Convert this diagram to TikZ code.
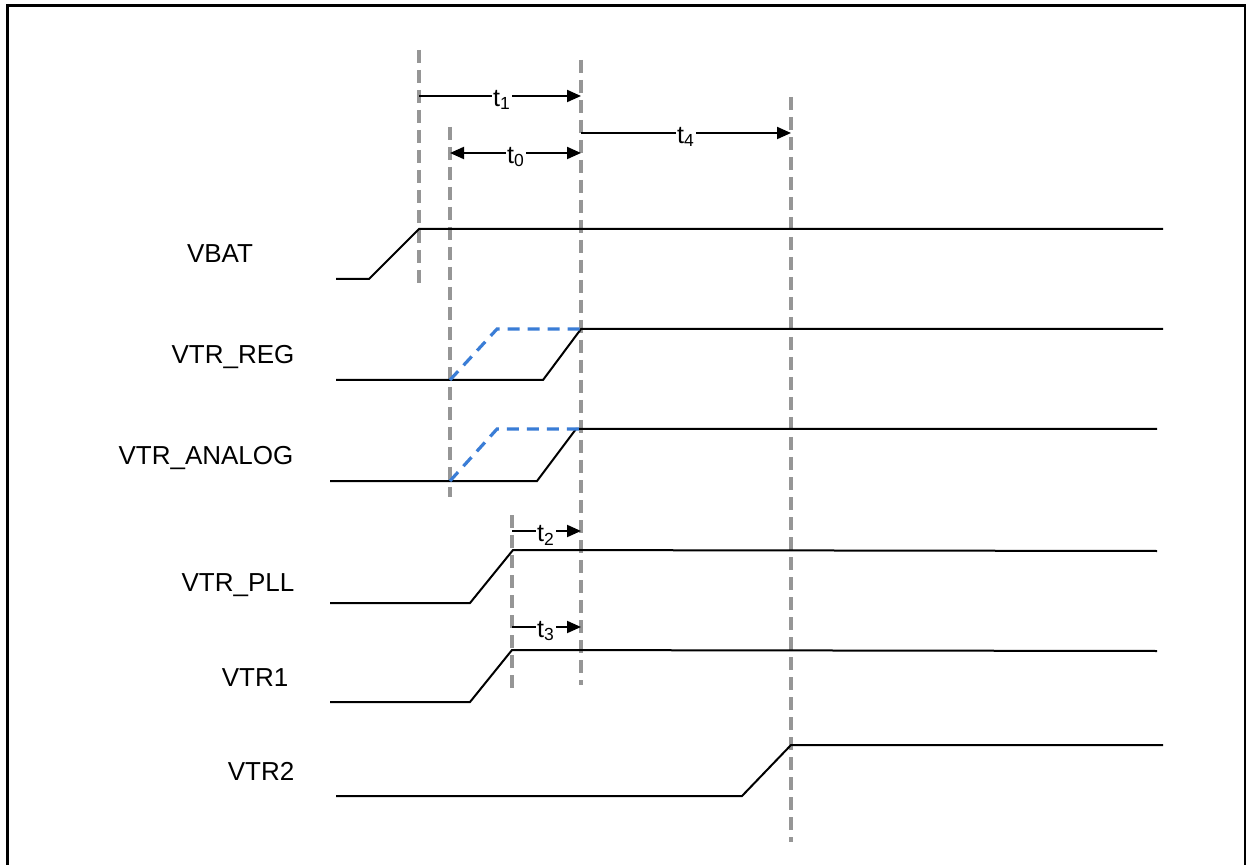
\documentclass[tikz,border=0pt]{standalone}
\usepackage{fontspec}
\setmainfont{Liberation Sans}
\usetikzlibrary{arrows.meta}
\definecolor{guidegray}{RGB}{150,150,150}
\definecolor{sigblue}{RGB}{58,125,214}
\begin{document}
\begin{tikzpicture}[x=0.5pt,y=-0.5pt,
  sig/.style={line width=1pt,black,line join=miter},
  guide/.style={draw=guidegray,line width=1.6pt,dash pattern=on 6.5pt off 3.5pt},
  alt/.style={draw=sigblue,line width=1.6pt,dash pattern=on 6pt off 4pt},
  dim/.style={line width=1pt,-{Triangle[length=7pt,width=6pt]}},
  dimboth/.style={line width=1pt,{Triangle[length=7pt,width=6pt]}-{Triangle[length=7pt,width=6pt]}},
  tlab/.style={fill=white,inner sep=0.6pt,font=\fontsize{12.5}{14}\selectfont},
  siglab/.style={anchor=base,font=\fontsize{13}{15}\selectfont}]
\useasboundingbox (0,0) rectangle (1246,865);
% frame
\draw[line width=1.5pt] (7,868) -- (7,6) -- (1245.5,6) -- (1245.5,868);

% guide coordinates
\coordinate (A1) at (419,50);  \coordinate (A2) at (419,284);
\coordinate (B1) at (450,127); \coordinate (B2) at (450,497);
\coordinate (C1) at (581,60);  \coordinate (C2) at (581,685);
\coordinate (D1) at (512,515); \coordinate (D2) at (512,695);
\coordinate (E1) at (791,97);  \coordinate (E2) at (791,842);
\draw[guide] (A1) -- (A2);
\draw[guide] (B1) -- (B2);
\draw[guide] (C1) -- (C2);
\draw[guide] (D1) -- (D2);
\draw[guide] (E1) -- (E2);

% timing arrows
\coordinate (t1s) at (419,96);  \coordinate (t1e) at (581,96);
\coordinate (t0s) at (450,153); \coordinate (t0e) at (581,153);
\coordinate (t4s) at (581,133); \coordinate (t4e) at (791,133);
\coordinate (t2s) at (512,531); \coordinate (t2e) at (581,531);
\coordinate (t3s) at (512,627); \coordinate (t3e) at (581,627);
\draw[dim] (t1s) -- (t1e);
\draw[dimboth] (t0s) -- (t0e);
\draw[dim] (t4s) -- (t4e);
\draw[dim] (t2s) -- (t2e);
\draw[dim] (t3s) -- (t3e);
\node[tlab] (lt1) at (502,100) {t\textsubscript{1}};
\node[tlab] (lt0) at (516,157) {t\textsubscript{0}};
\node[tlab] (lt4) at (686,137) {t\textsubscript{4}};
\node[tlab] (lt2) at (546,535) {t\textsubscript{2}};
\node[tlab] (lt3) at (546,631) {t\textsubscript{3}};

% signals
\draw[sig] (336,279) -- (369,279) -- (419,229) -- (1163,229);
\draw[sig] (336,380) -- (543,380) -- (581,329) -- (1163,329);
\draw[sig] (330,481) -- (537,481) -- (576,429) -- (1157,429);
\draw[sig] (330,603) -- (470,603) -- (513,550) -- (1157,551);
\draw[sig] (330,702) -- (470,702) -- (512,650) -- (1157,651);
\draw[sig] (336,796) -- (742,796) -- (791,745) -- (1163,745);
% alternative (early) ramps
\draw[alt] (450,380) -- (497,329) -- (581,329);
\draw[alt] (450,481) -- (497,429) -- (581,429);

% signal names
\node[siglab] (nVBAT) at (220,263) {VBAT};
\node[siglab] (nREG) at (233,364) {VTR\_REG};
\node[siglab] (nANA) at (206,465) {VTR\_ANALOG};
\node[siglab] (nPLL) at (238,591) {VTR\_PLL};
\node[siglab] (nVTR1) at (255,686) {VTR1};
\node[siglab] (nVTR2) at (261,780) {VTR2};
\end{tikzpicture}
\end{document}
